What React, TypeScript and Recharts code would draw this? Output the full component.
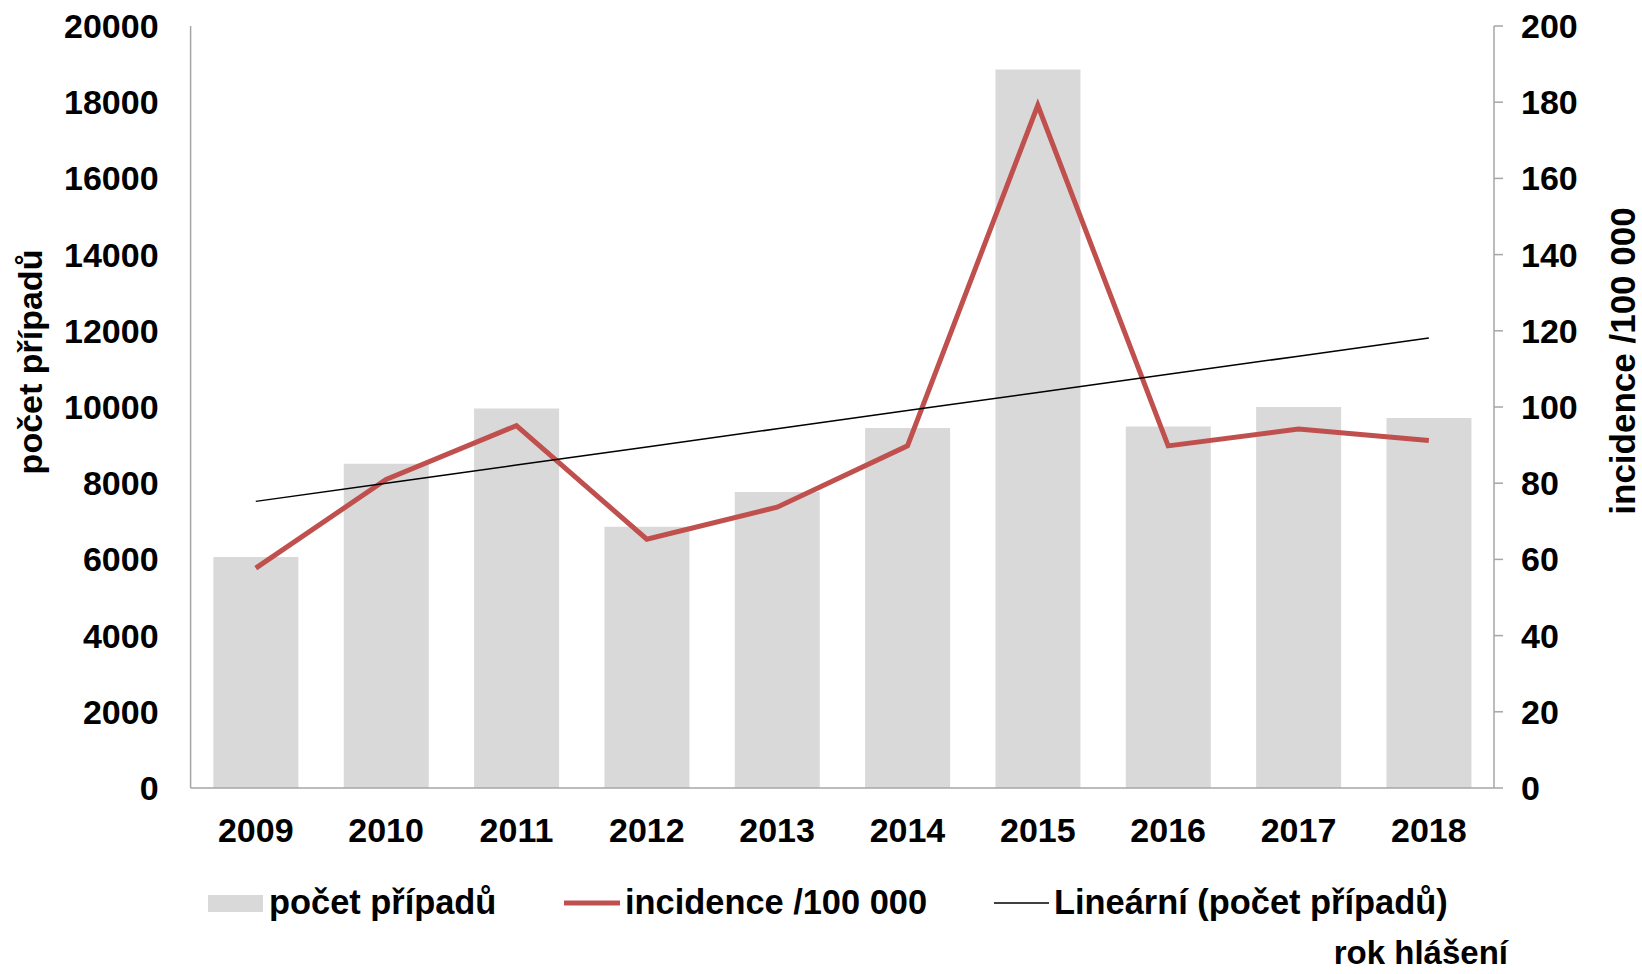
import { Bar, ComposedChart, Legend, Line, XAxis, YAxis } from 'recharts'

const years = ['2009', '2010', '2011', '2012', '2013', '2014', '2015', '2016', '2017', '2018']
const cases = [6060, 8510, 9960, 6860, 7770, 9450, 18860, 9490, 10000, 9710]
const incidence = [57.7, 81.0, 95.1, 65.3, 73.7, 89.8, 179.2, 89.8, 94.2, 91.2]
const leftTicks = [0, 2000, 4000, 6000, 8000, 10000, 12000, 14000, 16000, 18000, 20000]
const rightTicks = [0, 20, 40, 60, 80, 100, 120, 140, 160, 180, 200]

const FONT = '"Liberation Sans", Arial, sans-serif'
const AXIS_GREY = '#a6a6a6'
const BAR_GREY = '#d9d9d9'
const RED = '#c0504d'

// lineární trend (nejmenší čtverce) přes počet případů
function linearTrend(values: number[]) {
    const n = values.length
    const mx = (n - 1) / 2
    const my = values.reduce((a, b) => a + b, 0) / n
    let num = 0
    let den = 0
    values.forEach((v, i) => {
        num += (i - mx) * (v - my)
        den += (i - mx) * (i - mx)
    })
    const slope = num / den
    return values.map((_, i) => my + slope * (i - mx))
}

const trend = linearTrend(cases)

const data = years.map((year, i) => ({
    year,
    cases: cases[i],
    incidence: incidence[i],
    trend: trend[i],
}))

const tickStyle = { fill: '#000', fontSize: 34, fontWeight: 700, fontFamily: FONT }

function ChartLegend() {
    const text = { fontSize: 34.4, fontWeight: 700, fontFamily: FONT, fill: '#000' }
    return (
        <svg width={1642} height={60}>
            <rect x={208} y={15} width={55} height={17} fill={BAR_GREY} />
            <text x={269} y={34} {...text}>počet případů</text>
            <line x1={564} x2={620} y1={23} y2={23} stroke={RED} strokeWidth={5} />
            <text x={625} y={34} {...text}>incidence /100 000</text>
            <line x1={994} x2={1049} y1={23} y2={23} stroke='#000' strokeWidth={1.5} />
            <text x={1054} y={34} {...text}>Lineární (počet případů)</text>
        </svg>
    )
}

export default function App() {
    return (
        <div style={{ position: 'absolute', left: 0, top: 0, width: 1642, height: 974, background: '#fff' }}>
            <ComposedChart
                width={1642}
                height={974}
                data={data}
                margin={{ top: 26, right: 0, bottom: 0, left: 0 }}
                barCategoryGap='17.5%'
            >
                <XAxis
                    dataKey='year'
                    height={186}
                    axisLine={{ stroke: AXIS_GREY, strokeWidth: 1.5 }}
                    tickLine={false}
                    tickMargin={24}
                    tick={tickStyle}
                    label={{
                        content: () => (
                            <text x={1508} y={964} textAnchor='end' {...tickStyle} fontSize={33}>
                                rok hlášení
                            </text>
                        ),
                    }}
                />
                <YAxis
                    yAxisId='left'
                    width={190.6}
                    domain={[0, 20000]}
                    ticks={leftTicks}
                    interval={0}
                    axisLine={{ stroke: AXIS_GREY, strokeWidth: 1.5 }}
                    tickLine={false}
                    tickMargin={26}
                    tick={tickStyle}
                    label={{
                        content: () => (
                            <text
                                x={42}
                                y={362}
                                textAnchor='middle'
                                transform='rotate(-90 42 362)'
                                {...tickStyle}
                            >
                                počet případů
                            </text>
                        ),
                    }}
                />
                <YAxis
                    yAxisId='right'
                    orientation='right'
                    width={148}
                    domain={[0, 200]}
                    ticks={rightTicks}
                    interval={0}
                    axisLine={{ stroke: AXIS_GREY, strokeWidth: 1.5 }}
                    tickLine={{ stroke: AXIS_GREY, strokeWidth: 1.5 }}
                    tickSize={9}
                    tickMargin={18}
                    tick={tickStyle}
                    label={{
                        content: () => (
                            <text
                                x={1635}
                                y={361}
                                textAnchor='middle'
                                transform='rotate(-90 1635 361)'
                                {...tickStyle}
                                fontSize={35}
                            >
                                incidence /100 000
                            </text>
                        ),
                    }}
                />
                <Bar yAxisId='left' dataKey='cases' fill={BAR_GREY} isAnimationActive={false} />
                <Line
                    yAxisId='right'
                    dataKey='incidence'
                    stroke={RED}
                    strokeWidth={5}
                    dot={false}
                    activeDot={false}
                    isAnimationActive={false}
                />
                <Line
                    yAxisId='left'
                    dataKey='trend'
                    stroke='#000'
                    strokeWidth={1.5}
                    dot={false}
                    activeDot={false}
                    isAnimationActive={false}
                />
                <Legend
                    layout='horizontal'
                    verticalAlign='middle'
                    align='center'
                    wrapperStyle={{ left: 0, top: 880, width: 1642, height: 60 }}
                    content={() => <ChartLegend />}
                />
            </ComposedChart>
        </div>
    )
}
